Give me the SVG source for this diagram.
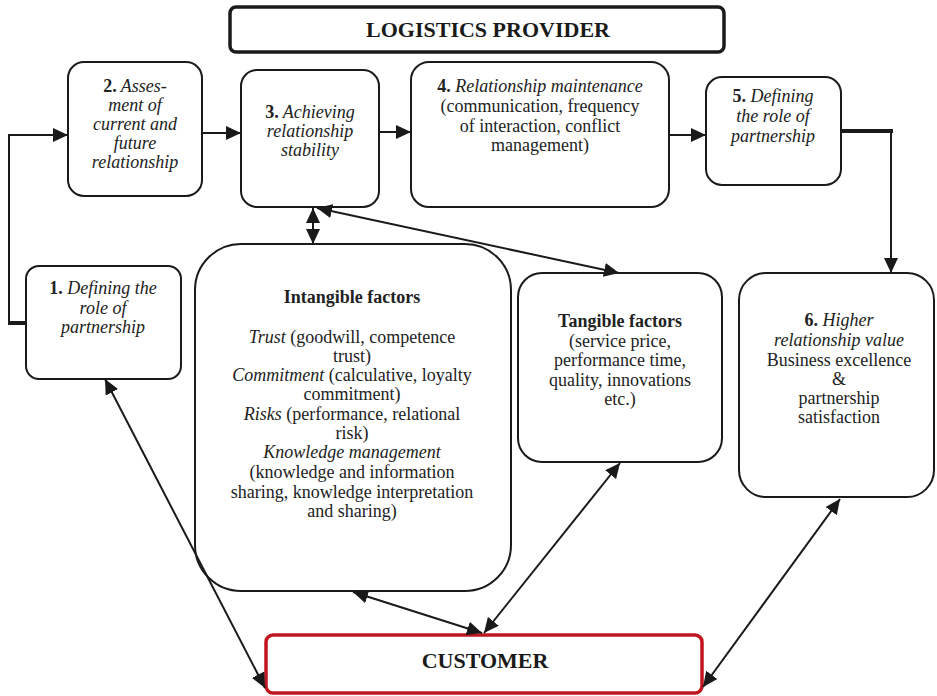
<svg xmlns="http://www.w3.org/2000/svg" width="937" height="696" viewBox="0 0 937 696">
<style>
.box{fill:#fff;stroke:#1a1a1a;stroke-width:2}
.t{font-family:"Liberation Serif","Times New Roman",serif;font-size:18px;fill:#222;text-anchor:middle}
.i{font-style:italic}
.b{font-weight:bold}
.big{font-family:"Liberation Serif","Times New Roman",serif;font-size:22px;font-weight:bold;fill:#1a1a1a;text-anchor:middle}
.ln{fill:none;stroke:#1a1a1a;stroke-width:2}
</style>
<defs>
<marker id="ah" markerUnits="userSpaceOnUse" markerWidth="16" markerHeight="14" refX="15" refY="7" orient="auto-start-reverse">
<path d="M0,0 L15,7 L0,14 z" fill="#1a1a1a"/>
</marker>
</defs>
<g id="provider">
<rect x="230" y="7" width="494" height="45" rx="6" fill="#fff" stroke="#1a1a1a" stroke-width="3.5"/>
<text class="big" x="488" y="37">LOGISTICS PROVIDER</text>
</g>
<g id="n2">
<rect class="box" x="68" y="62" width="134" height="134" rx="16"/>
<text class="t i" x="135" y="92"><tspan class="b" font-style="normal">2.</tspan> Asses-</text>
<text class="t i" x="135" y="111">ment of</text>
<text class="t i" x="135" y="130">current and</text>
<text class="t i" x="135" y="149">future</text>
<text class="t i" x="135" y="168">relationship</text>
</g>
<g id="n3">
<rect class="box" x="241" y="70" width="138" height="137" rx="16"/>
<text class="t i" x="310" y="118"><tspan class="b" font-style="normal">3.</tspan> Achieving</text>
<text class="t i" x="310" y="137">relationship</text>
<text class="t i" x="310" y="156">stability</text>
</g>
<g id="n4">
<rect class="box" x="411" y="62" width="258" height="145" rx="18"/>
<text class="t" x="540" y="92"><tspan class="b">4.</tspan> <tspan class="i">Relationship maintenance</tspan></text>
<text class="t" x="540" y="112">(communication, frequency</text>
<text class="t" x="540" y="132">of interaction, conflict</text>
<text class="t" x="540" y="151">management)</text>
</g>
<g id="n5">
<rect class="box" x="706" y="77" width="135" height="108" rx="16"/>
<text class="t i" x="773" y="102"><tspan class="b" font-style="normal">5.</tspan> Defining</text>
<text class="t i" x="773" y="122">the role of</text>
<text class="t i" x="773" y="142">partnership</text>
</g>
<g id="n1">
<rect class="box" x="26" y="266" width="155" height="113" rx="13"/>
<text class="t i" x="103" y="294"><tspan class="b" font-style="normal">1.</tspan> Defining the</text>
<text class="t i" x="103" y="314">role of</text>
<text class="t i" x="103" y="333">partnership</text>
</g>
<g id="intangible">
<rect class="box" x="195" y="244" width="316" height="347" rx="46"/>
<text class="t b" x="352" y="303">Intangible factors</text>
<text class="t" x="352" y="343"><tspan class="i">Trust</tspan> (goodwill, competence</text>
<text class="t" x="352" y="362">trust)</text>
<text class="t" x="352" y="381"><tspan class="i">Commitment</tspan> (calculative, loyalty</text>
<text class="t" x="352" y="400">commitment)</text>
<text class="t" x="352" y="420"><tspan class="i">Risks</tspan> (performance, relational</text>
<text class="t" x="352" y="439">risk)</text>
<text class="t i" x="352" y="458">Knowledge management</text>
<text class="t" x="352" y="478">(knowledge and information</text>
<text class="t" x="352" y="498">sharing, knowledge interpretation</text>
<text class="t" x="352" y="517">and sharing)</text>
</g>
<g id="tangible">
<rect class="box" x="518" y="273" width="204" height="189" rx="24"/>
<text class="t b" x="620" y="327">Tangible factors</text>
<text class="t" x="620" y="347">(service price,</text>
<text class="t" x="620" y="366">performance time,</text>
<text class="t" x="620" y="386">quality, innovations</text>
<text class="t" x="620" y="405">etc.)</text>
</g>
<g id="n6">
<rect class="box" x="739" y="273" width="195" height="224" rx="27"/>
<text class="t" x="839" y="326"><tspan class="b">6.</tspan> <tspan class="i">Higher</tspan></text>
<text class="t i" x="839" y="346">relationship value</text>
<text class="t" x="839" y="366">Business excellence</text>
<text class="t" x="839" y="385">&amp;</text>
<text class="t" x="839" y="404">partnership</text>
<text class="t" x="839" y="423">satisfaction</text>
</g>
<g id="customer">
<rect x="266" y="635" width="436" height="58" rx="7" fill="#fff" stroke="#c0161f" stroke-width="3.5"/>
<text class="big" x="485" y="668">CUSTOMER</text>
</g>
<g id="connectors">
<line class="ln" x1="202" y1="133" x2="241" y2="133" marker-end="url(#ah)"/>
<line class="ln" x1="379" y1="132" x2="411" y2="132" marker-end="url(#ah)"/>
<line class="ln" x1="669" y1="135" x2="706" y2="135" marker-end="url(#ah)"/>
<polyline class="ln" points="9,323 9,135 68,135" marker-end="url(#ah)"/>
<line x1="8" y1="323" x2="26" y2="323" stroke="#1a1a1a" stroke-width="4"/>
<line x1="841" y1="131" x2="893" y2="131" stroke="#1a1a1a" stroke-width="4"/>
<line class="ln" x1="891" y1="131" x2="891" y2="273" marker-end="url(#ah)"/>
<line class="ln" x1="313" y1="208" x2="313" y2="244" stroke-width="2.5" marker-start="url(#ah)" marker-end="url(#ah)"/>
<line class="ln" x1="317" y1="208" x2="619" y2="273" stroke-width="3.5" marker-start="url(#ah)" marker-end="url(#ah)"/>
<line class="ln" x1="105" y1="379" x2="265" y2="688" stroke-width="2.5" marker-start="url(#ah)" marker-end="url(#ah)"/>
<line class="ln" x1="353" y1="592" x2="482" y2="633" stroke-width="4" marker-start="url(#ah)" marker-end="url(#ah)"/>
<line class="ln" x1="620" y1="463" x2="484" y2="633" stroke-width="2.5" marker-start="url(#ah)" marker-end="url(#ah)"/>
<line class="ln" x1="840" y1="499" x2="703" y2="687" stroke-width="2.5" marker-start="url(#ah)" marker-end="url(#ah)"/>
</g>
</svg>
